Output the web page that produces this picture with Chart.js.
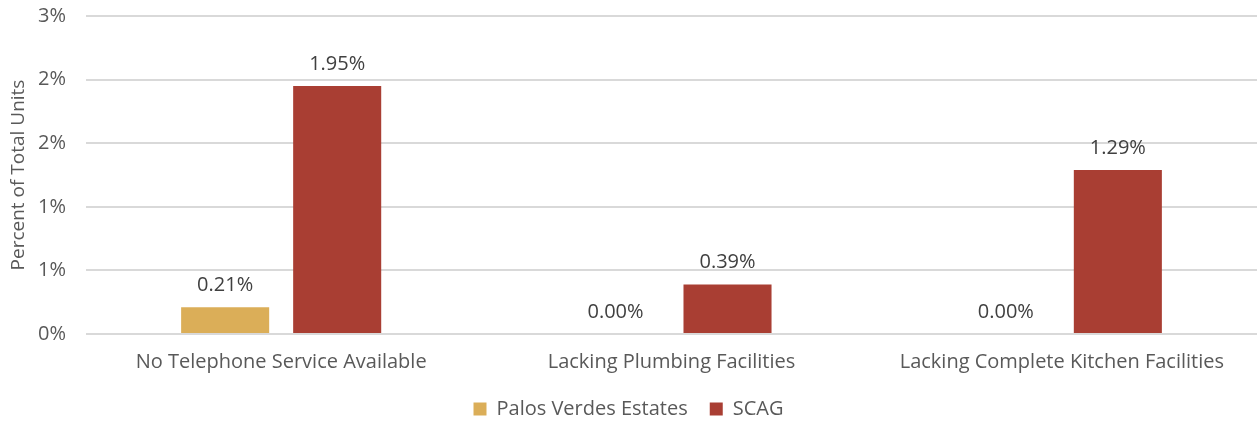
<!DOCTYPE html>
<html>
<head>
<meta charset="utf-8">
<script src="https://cdn.jsdelivr.net/npm/chart.js@4"></script>
<style>
    html, body { margin: 0; padding: 0; background: #fff; }
    #wrap { width: 1257px; height: 421px; }
</style>
</head>
<body>
<div id="wrap"><canvas id="chart"></canvas></div>
<script>
// 数据
const categories = ['No Telephone Service Available', 'Lacking Plumbing Facilities', 'Lacking Complete Kitchen Facilities'];
const seriesNames = ['Palos Verdes Estates', 'SCAG'];
const palosValues = [0.21, 0.00, 0.00];
const scagValues = [1.95, 0.39, 1.29];
const yTicks = [0, 0.5, 1, 1.5, 2, 2.5];

const FONT = "'Open Sans', 'Liberation Sans', Arial, sans-serif";
const TEXT = '#595959';

// 柱顶数值标签
const valueLabels = {
    id: 'valueLabels',
    afterDatasetsDraw(chart) {
        const ctx = chart.ctx;
        ctx.save();
        ctx.font = '20px ' + FONT;
        ctx.fillStyle = '#404040';
        ctx.textAlign = 'center';
        ctx.textBaseline = 'middle';
        chart.data.datasets.forEach((ds, i) => {
            chart.getDatasetMeta(i).data.forEach((bar, j) => {
                ctx.fillText(ds.data[j].toFixed(2) + '%', bar.x, bar.y - 22);
            });
        });
        ctx.restore();
    }
};

new Chart(document.getElementById('chart'), {
    type: 'bar',
    data: {
        labels: categories,
        datasets: [
            {
                label: seriesNames[0],
                data: palosValues,
                backgroundColor: '#DBAE58'
            },
            {
                label: seriesNames[1],
                data: scagValues,
                backgroundColor: '#A93E33'
            }
        ]
    },
    options: {
        responsive: true,
        maintainAspectRatio: false,
        animation: false,
        categoryPercentage: 0.574,
        barPercentage: 0.786,
        layout: { padding: { top: 16, right: 0, bottom: -8, left: 0 } },
        plugins: {
            legend: {
                position: 'bottom',
                labels: {
                    font: { family: FONT, size: 20 },
                    color: TEXT,
                    boxWidth: 13,
                    boxHeight: 13,
                    padding: 22
                }
            },
            tooltip: { enabled: false }
        },
        scales: {
            x: {
                grid: { display: false },
                border: { display: false },
                ticks: {
                    font: { family: FONT, size: 20 },
                    color: TEXT,
                    padding: 8,
                    maxRotation: 0
                },
                afterFit(scale) { scale.height = 43; }
            },
            y: {
                min: 0,
                max: 2.5,
                afterBuildTicks(scale) {
                    scale.ticks = yTicks.map(v => ({ value: v }));
                },
                grid: { color: '#d9d9d9', lineWidth: 2, drawTicks: false },
                border: { display: false },
                ticks: {
                    font: { family: FONT, size: 20 },
                    color: TEXT,
                    padding: 20,
                    callback: v => Math.round(v) + '%'
                },
                title: {
                    display: true,
                    text: 'Percent of Total Units',
                    font: { family: FONT, size: 19 },
                    color: TEXT,
                    padding: { top: 7, bottom: 0 }
                },
                afterFit(scale) {
                    scale.width = 86;
                    scale.paddingTop = 0;
                }
            }
        }
    },
    plugins: [valueLabels]
});
</script>
</body>
</html>
